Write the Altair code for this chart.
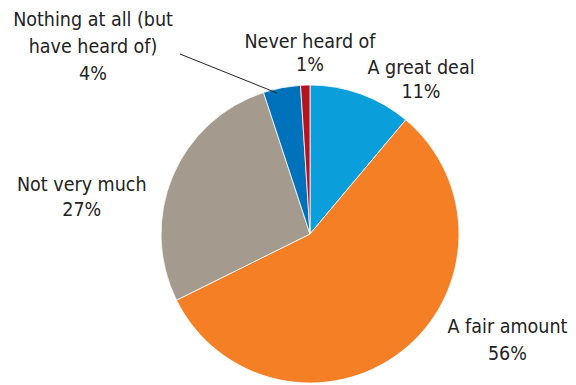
import altair as alt
import pandas as pd

categories = ["A great deal", "A fair amount", "Not very much",
              "Nothing at all (but have heard of)", "Never heard of"]
label_lines = ["A great deal", "A fair amount", "Not very much",
               "Nothing at all (but\nhave heard of)", "Never heard of"]
values = [11, 56, 27, 4, 1]
colors = ["#0a9fdb", "#f47f24", "#a59a8e", "#0072bb", "#b7121f"]

df = pd.DataFrame({
    "category": categories,
    "label": label_lines,
    "value": values,
    "order": list(range(len(categories))),
})
df["text"] = df["label"] + "\n" + df["value"].astype(str) + "%"

base = alt.Chart(df).encode(
    theta=alt.Theta("value:Q", stack=True),
    order=alt.Order("order:Q", sort="ascending"),
)

pie = base.mark_arc(outerRadius=149, stroke="white", strokeWidth=0.8).encode(
    color=alt.Color("category:N", scale=alt.Scale(domain=categories, range=colors), legend=None)
)

# label placement (radius, dx, dy, lineHeight) per category
placement = {
    "A great deal": (190, 46, 13, 24),
    "A fair amount": (190, 80, -56, 27),
    "Not very much": (190, -53, 24, 25),
    "Nothing at all (but have heard of)": (190, -181, -27, 27),
    "Never heard of": (190, 6, -2, 23),
}

layers = [pie]
for cat in categories:
    r, dx, dy, lh = placement[cat]
    layers.append(
        base.mark_text(radius=r, dx=dx, dy=dy, lineBreak="\n", font="DejaVu Sans Condensed",
                       fontSize=19.5, color="#222222", align="center", baseline="middle",
                       lineHeight=lh).encode(
            text=alt.condition(alt.datum.category == cat, "text:N", alt.value(""))
        )
    )

leader = alt.Chart(pd.DataFrame({"k": [0]})).mark_rule(color="#222222", strokeWidth=1).encode(
    x=alt.value(20), y=alt.value(-30), x2=alt.value(117), y2=alt.value(9)
)
layers.append(leader)

chart = alt.layer(*layers).properties(
    width=300, height=300,
    padding={"left": 152, "top": 76, "right": 108, "bottom": 1},
    autosize=alt.AutoSizeParams(type="none"),
).configure_view(stroke=None)

chart.save("out.html", embed_options={"renderer": "svg", "actions": False})
